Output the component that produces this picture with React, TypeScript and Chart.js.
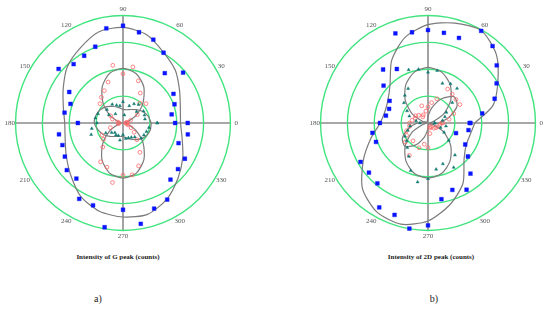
import React, { useEffect, useRef } from "react";
import { Chart, registerables } from "chart.js";

Chart.register(...registerables);

// ---- shared polar frame ----
const ringValues = [1, 2, 3, 4];
const angleTicks = [0, 30, 60, 90, 120, 150, 180, 210, 240, 270, 300, 330];
const labelRadius = 4.22;
const axisMax = 4.4;

// measurement angles (deg) for the data points and for the fitted curves
const pointAngles = [0, 10, 20, 30, 40, 50, 60, 70, 80, 90, 100, 110, 120, 130, 140, 150, 160, 170, 180,
  190, 200, 210, 220, 230, 240, 250, 260, 270, 280, 290, 300, 310, 320, 330, 340, 350, 360];
const curveAngles = [0, 15, 30, 45, 60, 75, 90, 105, 120, 135, 150, 165, 180,
  195, 210, 225, 240, 255, 270, 285, 300, 315, 330, 345];

// ---- a) Intensity of G peak ----
const gBlue = [1.94, 1.84, 2.04, 2.17, 2.92, 2.42, 3.02, 3.30, 3.43, 3.62, 3.58, 3.02, 2.89, 2.86, 3.13, 2.31, 2.08, 2.21, 1.68,
  2.42, 2.40, 2.50, 2.73, 2.70, 3.26, 3.26, 3.94, 3.23, 3.81, 3.39, 3.29, 2.75, 2.67, 2.66, 2.20, 2.45, 2.41];
const gGreen = [1.28, 0.83, 0.85, 0.88, 0.66, 0.90, 0.82, 0.68, 0.30, 0.79, 0.65, 0.70, 0.80, 0.44, 0.78, 0.61, 0.99, 1.04, 0.97,
  1.18, 1.26, 0.74, 0.55, 0.47, 0.52, 0.50, 0.65, 0.44, 0.59, 0.59, 0.62, 0.68, 0.88, 0.90, 0.93, 0.98, 1.27];
const gRed = [0.12, 0.15, 0.30, 0.62, 1.12, 0.97, 1.29, 1.67, 2.12, 1.83, 2.18, 1.62, 1.39, 1.25, 1.12, 0.53, 0.42, 0.20, 0.14,
  0.18, 0.50, 0.90, 0.95, 1.17, 1.67, 1.75, 2.25, 1.94, 1.96, 1.70, 1.26, 0.81, 0.54, 0.35, 0.20, 0.15, 0.10];
const gBlueFit = [2.14, 2.21, 2.43, 2.76, 3.03, 3.40, 3.56, 3.51, 3.21, 2.94, 2.57, 2.30, 2.17,
  2.23, 2.44, 2.75, 3.15, 3.40, 3.50, 3.52, 3.27, 2.90, 2.57, 2.28];
const gGreenFit = [1.05, 0.97, 0.85, 0.70, 0.58, 0.51, 0.51, 0.59, 0.71, 0.86, 0.98, 1.05, 1.07,
  0.97, 0.85, 0.70, 0.58, 0.51, 0.51, 0.59, 0.71, 0.86, 0.98, 1.05];
const gRedFit = [0.06, 0.20, 0.56, 1.05, 1.55, 1.90, 2.03, 1.92, 1.55, 1.05, 0.55, 0.18, 0.06,
  0.20, 0.56, 1.06, 1.57, 1.93, 2.05, 1.93, 1.56, 1.06, 0.56, 0.19];

// ---- b) Intensity of 2D peak ----
const dBlue = [1.55, 2.05, 2.64, 2.95, 3.34, 3.74, 3.96, 3.37, 3.41, 3.46, 3.43, 3.55, 2.32, 2.60, 2.16, 1.65, 1.54, 1.59, 1.79,
  2.10, 2.06, 2.90, 2.87, 2.93, 3.63, 3.64, 3.99, 3.81, 2.88, 2.65, 2.87, 2.46, 1.94, 1.60, 1.11, 1.53, 1.58];
const dGreen = [0.25, 0.55, 0.67, 0.79, 1.18, 1.68, 1.68, 1.57, 1.98, 1.89, 2.03, 2.11, 1.48, 1.34, 1.17, 0.90, 0.74, 0.45, 0.30,
  0.68, 0.80, 0.99, 1.04, 1.20, 1.43, 1.89, 2.23, 2.08, 1.75, 1.62, 1.91, 1.56, 1.01, 0.69, 0.50, 0.68, 0.25];
const dRed = [0.56, 0.80, 1.02, 1.37, 1.36, 1.40, 1.46, 0.96, 0.77, 0.60, 0.45, 0.68, 0.35, 0.30, 0.45, 0.54, 0.50, 0.60, 0.69,
  0.70, 0.85, 0.92, 1.10, 0.87, 1.39, 0.98, 0.80, 0.92, 0.40, 0.20, 0.15, 0.20, 0.30, 0.35, 0.40, 0.45, 0.50];
const dBlueFit = [1.74, 2.50, 3.00, 3.60, 3.97, 3.85, 3.66, 3.30, 2.70, 2.00, 1.72, 1.66, 1.78,
  2.20, 2.78, 3.45, 3.82, 3.90, 3.65, 3.15, 2.60, 1.90, 1.64, 1.63];
const dGreenFit = [0.05, 0.20, 0.68, 1.20, 1.65, 1.96, 2.07, 1.96, 1.65, 1.20, 0.68, 0.20, 0.05,
  0.20, 0.68, 1.20, 1.64, 1.95, 2.05, 1.95, 1.64, 1.20, 0.68, 0.20];
const dRedFit = [0.40, 0.80, 1.25, 1.38, 1.05, 0.60, 0.25, 0.08, 0.05, 0.05, 0.06, 0.15, 0.40,
  0.72, 1.10, 1.22, 0.95, 0.55, 0.22, 0.08, 0.05, 0.05, 0.08, 0.18];

const titleG = "Intensity of G peak (counts)";
const title2D = "Intensity of 2D peak (counts)";

// ---- helpers ----
const RAD = Math.PI / 180;
function toXY(angles: number[], radii: number[]) {
  return radii.map((r, i) => ({ x: r * Math.cos(angles[i] * RAD), y: r * Math.sin(angles[i] * RAD) }));
}
function closedCurve(angles: number[], radii: number[]) {
  const pts = toXY(angles, radii);
  pts.push(pts[0]);
  return pts;
}

const polarFrame = {
  id: "polarFrame",
  beforeDatasetsDraw(chart: any) {
    const { ctx } = chart;
    const xs = chart.scales.x;
    const ys = chart.scales.y;
    const cx = xs.getPixelForValue(0);
    const cy = ys.getPixelForValue(0);
    const outer = ringValues[ringValues.length - 1];
    ctx.save();
    // axes
    ctx.strokeStyle = "#8c8c8c";
    ctx.lineWidth = 1.6;
    ctx.beginPath();
    ctx.moveTo(xs.getPixelForValue(-outer), cy);
    ctx.lineTo(xs.getPixelForValue(outer), cy);
    ctx.moveTo(cx, ys.getPixelForValue(outer));
    ctx.lineTo(cx, ys.getPixelForValue(-outer));
    ctx.stroke();
    // rings
    ctx.strokeStyle = "#40e47e";
    ctx.lineWidth = 1.4;
    ringValues.forEach((v) => {
      const r = xs.getPixelForValue(v) - cx;
      ctx.beginPath();
      ctx.arc(cx, cy, r, 0, Math.PI * 2);
      ctx.stroke();
    });
    // angle labels
    ctx.fillStyle = "#555";
    ctx.font = '7px "Liberation Serif", serif';
    ctx.textAlign = "center";
    ctx.textBaseline = "middle";
    angleTicks.forEach((a) => {
      const px = xs.getPixelForValue(labelRadius * Math.cos(a * RAD));
      const py = ys.getPixelForValue(labelRadius * Math.sin(a * RAD));
      ctx.fillText(String(a), px, py);
    });
    ctx.restore();
  },
};

type PanelProps = {
  left: number;
  blue: number[]; green: number[]; red: number[];
  blueFit: number[]; greenFit: number[]; redFit: number[];
};

function PolarPanel(p: PanelProps) {
  const ref = useRef<HTMLCanvasElement>(null);
  useEffect(() => {
    const fitStyle = {
      showLine: true,
      borderColor: "#7b7b7b",
      borderWidth: 1.2,
      pointRadius: 0,
      tension: 0.25,
      fill: false,
      order: 10,
    };
    const chart = new Chart(ref.current as HTMLCanvasElement, {
      type: "scatter",
      data: {
        datasets: [
          { ...fitStyle, data: closedCurve(curveAngles, p.blueFit) },
          { ...fitStyle, data: closedCurve(curveAngles, p.greenFit) },
          { ...fitStyle, data: closedCurve(curveAngles, p.redFit) },
          {
            data: toXY(pointAngles, p.red),
            pointStyle: "circle",
            pointRadius: 1.9,
            borderColor: "#ff6a6a",
            backgroundColor: "rgba(255,255,255,0)",
            borderWidth: 0.8,
            order: 3,
          },
          {
            data: toXY(pointAngles, p.green),
            pointStyle: "triangle",
            pointRadius: 1.8,
            borderColor: "#127a72",
            backgroundColor: "#127a72",
            borderWidth: 0.4,
            order: 2,
          },
          {
            data: toXY(pointAngles, p.blue),
            pointStyle: "rect",
            pointRadius: 2.7,
            borderColor: "#0a14ff",
            backgroundColor: "#0a14ff",
            borderWidth: 0.4,
            order: 1,
          },
        ] as any,
      },
      options: {
        animation: false,
        responsive: false,
        maintainAspectRatio: false,
        events: [],
        layout: { padding: 0 },
        plugins: { legend: { display: false }, tooltip: { enabled: false }, title: { display: false } },
        scales: {
          x: { type: "linear", display: false, min: -axisMax, max: axisMax },
          y: { type: "linear", display: false, min: -axisMax, max: axisMax },
        },
      } as any,
      plugins: [polarFrame],
    });
    return () => chart.destroy();
  }, []);
  return (
    <canvas
      ref={ref}
      width={246}
      height={246}
      style={{ position: "absolute", left: p.left, top: 0, width: 246, height: 246 }}
    />
  );
}

const captionStyle: React.CSSProperties = {
  position: "absolute",
  fontFamily: '"Liberation Serif", serif',
  fontWeight: "bold",
  fontSize: 7,
  color: "#222",
  whiteSpace: "nowrap",
  transform: "translate(-50%, -50%)",
};
const letterStyle: React.CSSProperties = {
  position: "absolute",
  fontFamily: '"Liberation Serif", serif',
  fontSize: 10,
  color: "#222",
  whiteSpace: "nowrap",
  transform: "translate(-50%, -50%)",
};

export default function App() {
  return (
    <div style={{ position: "absolute", left: 0, top: 0, width: 550, height: 310, background: "#fff", overflow: "hidden" }}>
      <PolarPanel left={0} blue={gBlue} green={gGreen} red={gRed} blueFit={gBlueFit} greenFit={gGreenFit} redFit={gRedFit} />
      <PolarPanel left={305} blue={dBlue} green={dGreen} red={dRed} blueFit={dBlueFit} greenFit={dGreenFit} redFit={dRedFit} />
      <div style={{ ...captionStyle, left: 118, top: 257 }}>{titleG}</div>
      <div style={{ ...captionStyle, left: 431, top: 257 }}>{title2D}</div>
      <div style={{ ...letterStyle, left: 98, top: 298 }}>a)</div>
      <div style={{ ...letterStyle, left: 434, top: 298 }}>b)</div>
    </div>
  );
}
